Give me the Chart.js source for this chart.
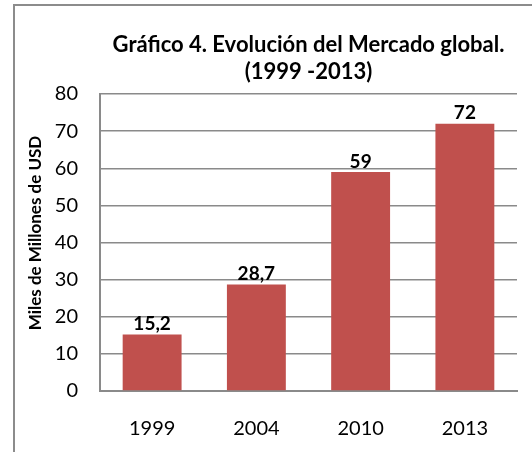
<!DOCTYPE html>
<html>
<head>
<meta charset="utf-8">
<script src="https://cdn.jsdelivr.net/npm/chart.js@4"></script>
<style>
  html, body { margin: 0; padding: 0; background: #fff; }
  #wrap { position: absolute; left: 0; top: 0; width: 532px; height: 452px; }
</style>
</head>
<body>
<div id="wrap"><canvas id="c" width="532" height="452"></canvas></div>
<script>
const categories = ['1999', '2004', '2010', '2013'];
const values = [15.2, 28.7, 59, 72];
const valueLabels = ['15,2', '28,7', '59', '72'];
const yTicks = [0, 10, 20, 30, 40, 50, 60, 70, 80];
const titleLines = ['Gráfico 4. Evolución del Mercado global.', '(1999 -2013)'];
const yTitle = 'Miles de Millones de USD';

const FONT = 'Lato';
const GRID = '#8a8a8a';

const decorPlugin = {
  id: 'decor',
  beforeDraw(chart) {
    const ctx = chart.ctx;
    ctx.save();
    ctx.fillStyle = '#fff';
    ctx.fillRect(0, 0, chart.width, chart.height);
    ctx.strokeStyle = '#8c8c8c';
    ctx.lineWidth = 2;
    ctx.beginPath();
    ctx.moveTo(14, chart.height);
    ctx.lineTo(14, 5);
    ctx.lineTo(chart.width, 5);
    ctx.stroke();
    ctx.restore();
  },
  afterDraw(chart) {
    const ctx = chart.ctx;
    const area = chart.chartArea;
    ctx.save();
    ctx.fillStyle = '#000';
    ctx.textAlign = 'center';
    ctx.textBaseline = 'middle';
    ctx.font = 'bold 22px ' + FONT;
    const cx = (area.left + area.right) / 2;
    ctx.fillText(titleLines[0], cx, 45);
    ctx.fillText(titleLines[1], cx, 72);
    ctx.translate(36, 233);
    ctx.rotate(-Math.PI / 2);
    ctx.font = 'bold 17px ' + FONT;
    ctx.fillText(yTitle, 0, 0);
    ctx.restore();
  },
  afterDatasetsDraw(chart) {
    const ctx = chart.ctx;
    const meta = chart.getDatasetMeta(0);
    ctx.save();
    ctx.fillStyle = '#000';
    ctx.textAlign = 'center';
    ctx.textBaseline = 'bottom';
    ctx.font = 'bold 19px ' + FONT;
    meta.data.forEach((bar, i) => {
      ctx.fillText(valueLabels[i], bar.x, bar.y - 1);
    });
    ctx.restore();
  }
};

new Chart(document.getElementById('c'), {
  type: 'bar',
  data: {
    labels: categories,
    datasets: [{
      data: values,
      backgroundColor: '#C0504D',
      borderWidth: 0,
      categoryPercentage: 1,
      barPercentage: 0.565
    }]
  },
  options: {
    responsive: false,
    animation: false,
    devicePixelRatio: 1,
    layout: { padding: { top: 94, right: 15, left: 14, bottom: 0 } },
    plugins: { legend: { display: false }, title: { display: false }, tooltip: { enabled: false } },
    scales: {
      x: {
        grid: { display: false, drawTicks: false },
        border: { display: true, color: GRID, width: 2 },
        ticks: { color: '#000', font: { family: FONT, size: 20 }, padding: 26 },
        afterFit(scale) { scale.height = 61; }
      },
      y: {
        min: 0, max: 80,
        afterBuildTicks(scale) { scale.ticks = yTicks.map(v => ({ value: v })); },
        grid: { color: GRID, lineWidth: 1.5, drawTicks: false },
        border: { display: true, color: GRID, width: 2 },
        ticks: { color: '#000', font: { family: FONT, size: 20 }, padding: 22 },
        afterFit(scale) { scale.width = 86; }
      }
    }
  },
  plugins: [decorPlugin]
});
</script>
</body>
</html>
